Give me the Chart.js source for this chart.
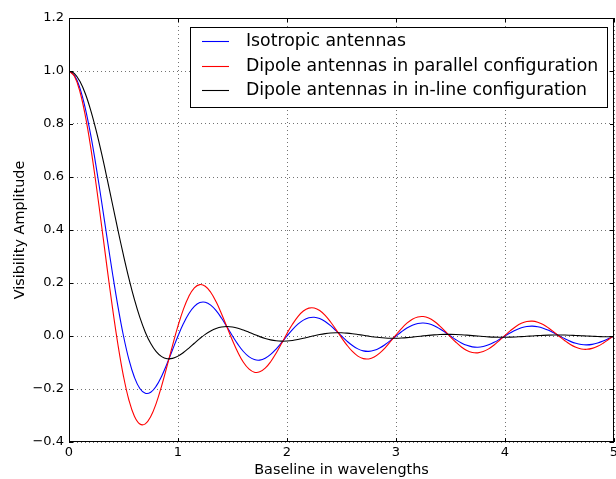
<!DOCTYPE html>
<html>
<head>
<meta charset="utf-8">
<script src="https://cdn.jsdelivr.net/npm/chart.js@4"></script>
<style>
html,body{margin:0;padding:0;background:#fff;}
#wrap{width:616px;height:479px;position:relative;}
</style>
</head>
<body>
<div id="wrap"><canvas id="c" width="616" height="479"></canvas></div>
<script>
// Baseline (in wavelengths), step 0.05 from 0 to 5
const baselines = [];
for (let k = 0; k <= 100; k++) baselines.push(+(k * 0.05).toFixed(2));

const isotropic = [
1.0000,0.9836,0.9355,0.8584,0.7568,0.6366,0.5046,0.3679,0.2339,0.1093,
0.0000,-0.0894,-0.1559,-0.1981,-0.2162,-0.2122,-0.1892,-0.1515,-0.1039,-0.0518,
0.0000,0.0468,0.0850,0.1120,0.1261,0.1273,0.1164,0.0954,0.0668,0.0339,
0.0000,-0.0317,-0.0585,-0.0780,-0.0890,-0.0909,-0.0841,-0.0696,-0.0492,-0.0252,
0.0000,0.0240,0.0445,0.0599,0.0688,0.0707,0.0658,0.0548,0.0390,0.0201,
0.0000,-0.0193,-0.0360,-0.0486,-0.0561,-0.0579,-0.0541,-0.0452,-0.0323,-0.0167,
0.0000,0.0161,0.0302,0.0409,0.0473,0.0490,0.0459,0.0384,0.0275,0.0143,
0.0000,-0.0139,-0.0260,-0.0353,-0.0409,-0.0424,-0.0398,-0.0334,-0.0240,-0.0125,
0.0000,0.0121,0.0228,0.0310,0.0360,0.0374,0.0352,0.0296,0.0213,0.0111,
0.0000,-0.0108,-0.0203,-0.0277,-0.0322,-0.0335,-0.0315,-0.0265,-0.0191,-0.0099,
0.0000
];

const dipoleParallel = [
1.0000,0.9804,0.9227,0.8306,0.7099,0.5679,0.4134,0.2554,0.1031,-0.0350,
-0.1520,-0.2424,-0.3028,-0.3322,-0.3315,-0.3040,-0.2542,-0.1883,-0.1131,-0.0354,
0.0380,0.1014,0.1503,0.1816,0.1940,0.1879,0.1651,0.1288,0.0833,0.0331,
-0.0169,-0.0621,-0.0989,-0.1242,-0.1365,-0.1353,-0.1215,-0.0971,-0.0648,-0.0281,
0.0095,0.0444,0.0734,0.0942,0.1051,0.1056,0.0960,0.0778,0.0529,0.0240,
-0.0061,-0.0344,-0.0583,-0.0758,-0.0854,-0.0865,-0.0793,-0.0648,-0.0446,-0.0208,
0.0042,0.0280,0.0483,0.0634,0.0719,0.0733,0.0676,0.0555,0.0385,0.0183,
-0.0031,-0.0236,-0.0413,-0.0545,-0.0621,-0.0635,-0.0588,-0.0486,-0.0339,-0.0163,
0.0024,0.0204,0.0360,0.0478,0.0546,0.0561,0.0521,0.0432,0.0303,0.0147,
-0.0019,-0.0179,-0.0319,-0.0425,-0.0488,-0.0502,-0.0467,-0.0388,-0.0273,-0.0134,
0.0015
];

const dipoleInline = [
1.0000,0.9902,0.9611,0.9140,0.8507,0.7740,0.6869,0.5928,0.4953,0.3979,
0.3040,0.2165,0.1379,0.0701,0.0144,-0.0287,-0.0592,-0.0778,-0.0857,-0.0844,
-0.0760,-0.0623,-0.0455,-0.0273,-0.0097,0.0062,0.0191,0.0285,0.0340,0.0356,
0.0338,0.0291,0.0223,0.0142,0.0058,-0.0023,-0.0092,-0.0146,-0.0181,-0.0195,
-0.0190,-0.0168,-0.0132,-0.0087,-0.0038,0.0011,0.0054,0.0088,0.0112,0.0123,
0.0122,0.0109,0.0087,0.0058,0.0026,-0.0006,-0.0035,-0.0059,-0.0076,-0.0085,
-0.0084,-0.0076,-0.0062,-0.0042,-0.0019,0.0004,0.0025,0.0042,0.0055,0.0062,
0.0062,0.0057,0.0046,0.0032,0.0015,-0.0002,-0.0018,-0.0032,-0.0042,-0.0047,
-0.0047,-0.0044,-0.0036,-0.0025,-0.0012,0.0002,0.0014,0.0025,0.0033,0.0037,
0.0038,0.0035,0.0028,0.0020,0.0010,-0.0001,-0.0011,-0.0020,-0.0026,-0.0030,
-0.0030
];

const seriesLabels = [
  'Isotropic antennas',
  'Dipole antennas in parallel configuration',
  'Dipole antennas in in-line configuration'
];
const seriesColors = ['#0000ff', '#ff0000', '#000000'];
const xTickValues = [0, 1, 2, 3, 4, 5];
const xTickLabels = ['0', '1', '2', '3', '4', '5'];
const yTickValues = [-0.4, -0.2, 0.0, 0.2, 0.4, 0.6, 0.8, 1.0, 1.2];
const yTickLabels = ['\u22120.4', '\u22120.2', '0.0', '0.2', '0.4', '0.6', '0.8', '1.0', '1.2'];
const xTitle = 'Baseline in wavelengths';
const yTitle = 'Visibility Amplitude';

const FONT = "'DejaVu Sans', sans-serif";
const GRID = 'rgba(0,0,0,0.55)';

function pts(ys) { return baselines.map((b, i) => ({ x: b, y: ys[i] })); }

function labelFor(values, labels, v) {
  for (let i = 0; i < values.length; i++) if (Math.abs(values[i] - v) < 1e-6) return labels[i];
  return '';
}

// frame, inward ticks and legend box
const decor = {
  id: 'decor',
  afterDatasetsDraw(chart) {
    const { ctx, chartArea: a, scales } = chart;
    ctx.save();
    ctx.strokeStyle = '#000';
    ctx.lineWidth = 1;
    ctx.setLineDash([]);
    ctx.beginPath();
    xTickValues.forEach(v => {
      const px = Math.round(scales.x.getPixelForValue(v)) + 0.5;
      ctx.moveTo(px, a.bottom); ctx.lineTo(px, a.bottom - 4);
      ctx.moveTo(px, a.top); ctx.lineTo(px, a.top + 4);
    });
    yTickValues.forEach(v => {
      const py = Math.round(scales.y.getPixelForValue(v)) + 0.5;
      ctx.moveTo(a.left, py); ctx.lineTo(a.left + 4, py);
      ctx.moveTo(a.right, py); ctx.lineTo(a.right - 4, py);
    });
    ctx.stroke();
    ctx.strokeRect(Math.round(a.left) + 0.5, Math.round(a.top) + 0.5,
      Math.round(a.right - a.left) - 1, Math.round(a.bottom - a.top) - 1);
    ctx.restore();

    // legend
    ctx.save();
    ctx.setLineDash([]);
    const bx = 190.5, by = 27.5, bw = 417, bh = 80;
    ctx.fillStyle = '#fff';
    ctx.fillRect(bx, by, bw, bh);
    ctx.strokeStyle = '#000';
    ctx.lineWidth = 1;
    ctx.strokeRect(bx, by, bw, bh);
    ctx.font = '17.3px ' + FONT;
    ctx.textBaseline = 'middle';
    ctx.textAlign = 'left';
    const rowsY = [41, 66, 90];
    for (let i = 0; i < seriesLabels.length; i++) {
      ctx.beginPath();
      ctx.strokeStyle = seriesColors[i];
      ctx.lineWidth = 1.1;
      ctx.moveTo(202, rowsY[i] + 0.5);
      ctx.lineTo(229, rowsY[i] + 0.5);
      ctx.stroke();
      ctx.fillStyle = '#000';
      ctx.fillText(seriesLabels[i], 246, rowsY[i] + 1);
    }
    ctx.restore();
  }
};

new Chart(document.getElementById('c'), {
  type: 'line',
  data: {
    datasets: seriesLabels.map((lab, i) => ({
      label: lab,
      data: pts([isotropic, dipoleParallel, dipoleInline][i]),
      borderColor: seriesColors[i],
      order: 3 - i
    }))
  },
  options: {
    responsive: false,
    animation: false,
    devicePixelRatio: 1,
    layout: { padding: { top: 18, right: 2, left: 0, bottom: 0 } },
    elements: {
      line: { borderWidth: 1.1, tension: 0.4, fill: false },
      point: { radius: 0, hitRadius: 0 }
    },
    plugins: { legend: { display: false }, tooltip: { enabled: false } },
    scales: {
      x: {
        type: 'linear', min: 0, max: 5,
        afterFit(s) { s.height = 37; s.paddingLeft = 0; s.paddingRight = 0; },
        afterBuildTicks(s) { s.ticks = xTickValues.map(v => ({ value: v })); },
        ticks: {
          color: '#000', font: { family: FONT, size: 13 }, padding: 3, maxRotation: 0,
          callback: v => labelFor(xTickValues, xTickLabels, v)
        },
        grid: { color: GRID, lineWidth: 1, drawTicks: false },
        border: { display: false, dash: [1, 3] },
        title: {
          display: true, text: xTitle, color: '#000',
          font: { family: FONT, size: 14.4 }, padding: { top: 0, bottom: 0 }
        }
      },
      y: {
        type: 'linear', min: -0.4, max: 1.2,
        afterFit(s) { s.width = 69; s.paddingTop = 0; s.paddingBottom = 0; },
        afterBuildTicks(s) { s.ticks = yTickValues.map(v => ({ value: v })); },
        ticks: {
          color: '#000', font: { family: FONT, size: 13 }, padding: 5,
          callback: v => labelFor(yTickValues, yTickLabels, v)
        },
        grid: { color: GRID, lineWidth: 1, drawTicks: false },
        border: { display: false, dash: [1, 3] },
        title: {
          display: true, text: yTitle, color: '#000',
          font: { family: FONT, size: 14.4 }, padding: { top: 12, bottom: 0 }
        }
      }
    }
  },
  plugins: [decor]
});
</script>
</body>
</html>
